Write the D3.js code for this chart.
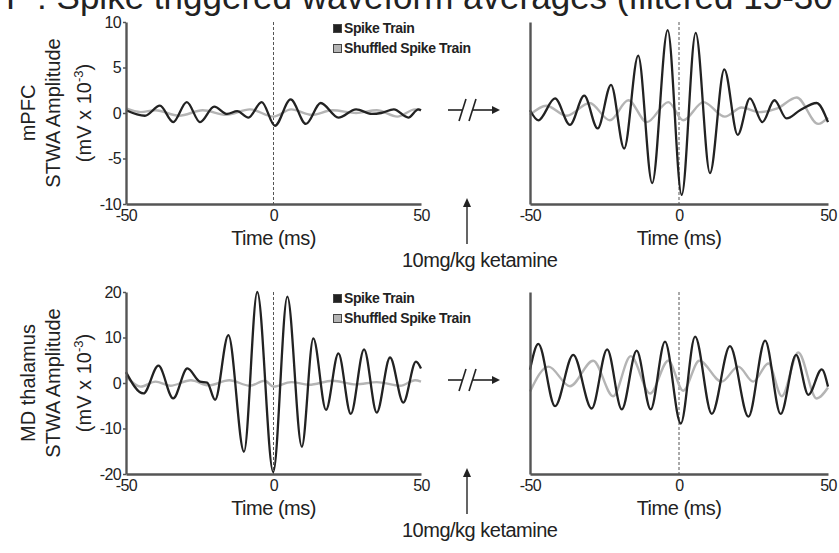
<!DOCTYPE html>
<html>
<head>
<meta charset="utf-8">
<script src="https://cdn.jsdelivr.net/npm/d3@7"></script>
<style>
  body { margin: 0; background: #fff; }
  svg { display: block; font-family: "Liberation Sans", Arial, sans-serif; }
</style>
</head>
<body>
<svg id="chart" width="839" height="553"></svg>
<script>
// STWA traces as [time (ms), amplitude (mV x 10^-3)] at each turning point
var timeTicks = [-50, 0, 50];
var mpfcTicks = [10, 5, 0, -5, -10];
var mdTicks = [20, 10, 0, -10, -20];

var mpfcBaseSpike = [[-50, 0.3], [-43.6, -0.3], [-38.5, 0.8], [-34, -1.0], [-29.4, 1.2], [-24.9, -1.0],
  [-20.1, 0.7], [-15.7, -0.1], [-12.3, 0.2], [-8.5, -0.5], [-4, 1.2], [0.5, -1.4], [5.8, 1.5],
  [11, -1.2], [16, 1.1], [22, -0.5], [28, 0.4], [33.3, -0.1], [36.5, 0.0], [40.8, 0.4],
  [45.7, -0.5], [49.1, 0.4], [50, 0.3]];
var mpfcBaseShuf = [[-50, 0.5], [-45, 0.1], [-40, 0.3], [-32, -0.3], [-24, 0.3], [-16, -0.2],
  [-8, 0.4], [0, -0.4], [6, 0.4], [13, -0.2], [20, 0.3], [28, 0.0], [35, 0.3], [42, -0.4],
  [48, 0.4], [50, 0.3]];
var mpfcKetSpike = [[-50, 0.3], [-47.2, -0.8], [-41.6, 1.6], [-36.6, -1.3], [-31.8, 1.9], [-27.3, -1.7],
  [-22.8, 3.1], [-18.4, -3.9], [-13.7, 6.3], [-9, -7.7], [-3.8, 9.1], [0.9, -9.0], [5.6, 8.8],
  [10.4, -6.6], [15.2, 4.8], [19.7, -2.4], [23.8, 1.6], [28, -1.0], [32, 1.4], [36.1, -0.6],
  [40.6, 0.3], [46.2, 1.1], [50, -1.0]];
var mpfcKetShuf = [[-50, -0.2], [-44.5, 0.8], [-37.7, -0.3], [-30, 1.1], [-23.2, -0.8], [-17, 1.4],
  [-10.8, -1.0], [-3.6, 1.2], [1.4, -0.8], [8.2, 1.2], [15.4, -0.4], [21, 0.6], [27, 0.1],
  [33, 0.5], [39.5, 1.7], [46.7, -1.2], [50, -0.5]];

var mdBaseSpike = [[-50, 2.4], [-44.1, -2.3], [-39, 3.8], [-34, -3.4], [-29.2, 3.2], [-24.9, 0.3],
  [-22.5, 0.1], [-19.8, -3.7], [-15.3, 10.5], [-10, -15.1], [-5.5, 20], [-0.1, -19.6], [4.7, 19],
  [9.6, -14], [13.5, 9.8], [17.8, -5.9], [22, 6.5], [26.2, -6.8], [30.7, 7.4], [35, -6.5],
  [39.5, 5.6], [44, -4.3], [48.3, 4.7], [50, 3.2]];
var mdBaseShuf = [[-50, 1.5], [-45, -0.8], [-40, 0.3], [-35, -0.6], [-28, 0.6], [-22, -0.5],
  [-15, 0.6], [-8, -0.6], [-3, 0.5], [0, -0.8], [6, 0.2], [12, -0.4], [20, 0.5], [28, -0.3],
  [35, 0.2], [43, -0.6], [48, 0.6], [50, 0.3]];
var mdKetSpike = [[-50, 2.9], [-47.2, 8.6], [-41.6, -5.1], [-35.5, 6.2], [-29.3, -5.6], [-24.1, 7.4],
  [-19.2, -5.8], [-14.2, 7.1], [-9.5, -5.8], [-4.7, 9.1], [0.6, -8.9], [5.4, 10.2], [11, -6.8],
  [17.1, 8.1], [23.3, -7.4], [28.9, 9.3], [34.1, -6.8], [39.3, 6.2], [43.4, -2.6], [47.9, 3.0],
  [50, -0.8]];
var mdKetShuf = [[-50, -1.9], [-43.8, 3.6], [-36.6, -0.7], [-28.8, 4.9], [-22.1, -2.9], [-16.2, 5.9],
  [-9.7, -2.3], [-3.6, 4.9], [1.4, -1.7], [6.8, 4.9], [14.3, 0.3], [19.9, 3.6], [24.9, 0.3],
  [30, 4.3], [34.5, -2.9], [40, 6.7], [46.2, -3.4], [50, -1.0]];

var legendLabels = ["Spike Train", "Shuffled Spike Train"];
var rowLabels = [["mPFC", "STWA Amplitude"], ["MD thalamus", "STWA Amplitude"]];

var svg = d3.select("#chart");
var ink = "#222", axisCol = "#555", shufCol = "#b4b4b4";

// title, mostly cut off at the top edge like the source
svg.append("text")
  .attr("x", 6).attr("y", 9)
  .attr("font-size", 35).attr("fill", ink)
  .text("F : Spike triggered waveform averages (filtered 15-30 Hz)");

var panels = [
  {left: 126, right: 421, top: 22, bottom: 204, dom: [-10, 10], ticks: mpfcTicks, spike: mpfcBaseSpike, shuf: mpfcBaseShuf, first: true},
  {left: 530, right: 828, top: 22, bottom: 204, dom: [-10, 10], ticks: [], spike: mpfcKetSpike, shuf: mpfcKetShuf, first: false},
  {left: 126, right: 421, top: 292, bottom: 474, dom: [-20, 20], ticks: mdTicks, spike: mdBaseSpike, shuf: mdBaseShuf, first: true},
  {left: 530, right: 828, top: 292, bottom: 474, dom: [-20, 20], ticks: [], spike: mdKetSpike, shuf: mdKetShuf, first: false}
];

var plainNum = function(d) { return String(d); };

panels.forEach(function(p, i) {
  var x = d3.scaleLinear().domain([-50, 50]).range([p.left, p.right]);
  var y = d3.scaleLinear().domain(p.dom).range([p.bottom, p.top]);

  var line = d3.line()
    .x(function(d) { return x(d[0]); })
    .y(function(d) { return y(d[1]); })
    .curve(d3.curveMonotoneX);

  // dashed marker at spike time
  svg.append("line")
    .attr("x1", x(0)).attr("x2", x(0))
    .attr("y1", p.top).attr("y2", p.bottom)
    .attr("stroke", axisCol).attr("stroke-width", 1)
    .attr("stroke-dasharray", "3,2");

  svg.append("path").datum(p.shuf)
    .attr("d", line).attr("fill", "none")
    .attr("stroke", shufCol).attr("stroke-width", 2.4);

  svg.append("path").datum(p.spike)
    .attr("d", line).attr("fill", "none")
    .attr("stroke", ink).attr("stroke-width", 2.3);

  var ya = svg.append("g")
    .attr("transform", "translate(" + p.left + ",0)")
    .call(d3.axisLeft(y).tickValues(p.ticks).tickFormat(plainNum).tickSize(3).tickSizeOuter(0).tickPadding(2));
  var xa = svg.append("g")
    .attr("transform", "translate(0," + p.bottom + ")")
    .call(d3.axisBottom(x).tickValues(timeTicks).tickFormat(plainNum).tickSize(0).tickSizeOuter(0).tickPadding(6));

  [ya, xa].forEach(function(a) {
    a.select(".domain").attr("stroke", axisCol).attr("stroke-width", 2.4);
    a.selectAll(".tick line").attr("stroke", axisCol).attr("stroke-width", 1.5);
    a.selectAll(".tick text").attr("fill", ink)
      .attr("font-size", 16).attr("letter-spacing", "-0.6px")
      .attr("font-family", "\"Liberation Sans\", Arial, sans-serif");
  });

  svg.append("text")
    .attr("x", (p.left + p.right) / 2).attr("y", p.bottom + 41)
    .attr("text-anchor", "middle").attr("font-size", 20)
    .attr("letter-spacing", "-0.5px").attr("fill", ink)
    .text("Time (ms)");

  if (p.first) {
    var row = i / 2;
    var cy = y(0);
    var lab = svg.append("g")
      .attr("transform", "translate(0," + cy + ") rotate(-90)")
      .attr("font-size", 20).attr("fill", ink).attr("text-anchor", "middle");
    lab.append("text").attr("x", 0).attr("y", 35).text(rowLabels[row][0]);
    lab.append("text").attr("x", 0).attr("y", 60).text(rowLabels[row][1]);
    var u = lab.append("text").attr("x", 0).attr("y", 91);
    u.append("tspan").text("(mV x 10");
    u.append("tspan").attr("font-size", 13).attr("dy", -8).text("-3");
    u.append("tspan").attr("dy", 8).text(")");

    // legend
    var lg = svg.append("g").attr("transform", "translate(333," + (p.top + 2) + ")");
    legendLabels.forEach(function(t, k) {
      lg.append("rect")
        .attr("x", 0.5).attr("y", k * 20 + 0.5).attr("width", 8).attr("height", 8)
        .attr("fill", k === 0 ? ink : shufCol).attr("stroke", "#444").attr("stroke-width", 1);
      lg.append("text")
        .attr("x", 11).attr("y", k * 20 + 9)
        .attr("font-size", 14).attr("font-weight", "bold")
        .attr("letter-spacing", "-0.4px").attr("fill", ink)
        .text(t);
    });
  } else {
    // break symbol between baseline and ketamine panels
    var by = y(0) - 3;
    var br = svg.append("g").attr("stroke", ink).attr("stroke-width", 1.6).attr("fill", "none");
    br.append("line").attr("x1", 448).attr("x2", 462).attr("y1", by).attr("y2", by);
    br.append("line").attr("x1", 459).attr("x2", 466).attr("y1", by + 11).attr("y2", by - 11);
    br.append("line").attr("x1", 469).attr("x2", 476).attr("y1", by + 11).attr("y2", by - 11);
    br.append("line").attr("x1", 472).attr("x2", 494).attr("y1", by).attr("y2", by);
    svg.append("path")
      .attr("d", "M500," + by + "L492," + (by - 4) + "L492," + (by + 4) + "Z")
      .attr("fill", ink);

    // ketamine arrow and label
    var ay = p.bottom - 6;
    svg.append("line")
      .attr("x1", 467).attr("x2", 467).attr("y1", ay + 6).attr("y2", ay + 46)
      .attr("stroke", axisCol).attr("stroke-width", 1.8);
    svg.append("path")
      .attr("d", "M467," + ay + "L463," + (ay + 9) + "L471," + (ay + 9) + "Z")
      .attr("fill", ink);
    svg.append("text")
      .attr("x", 402).attr("y", p.bottom + 63)
      .attr("font-size", 20).attr("letter-spacing", "-0.5px").attr("fill", ink)
      .text("10mg/kg ketamine");
  }
});
</script>
</body>
</html>
